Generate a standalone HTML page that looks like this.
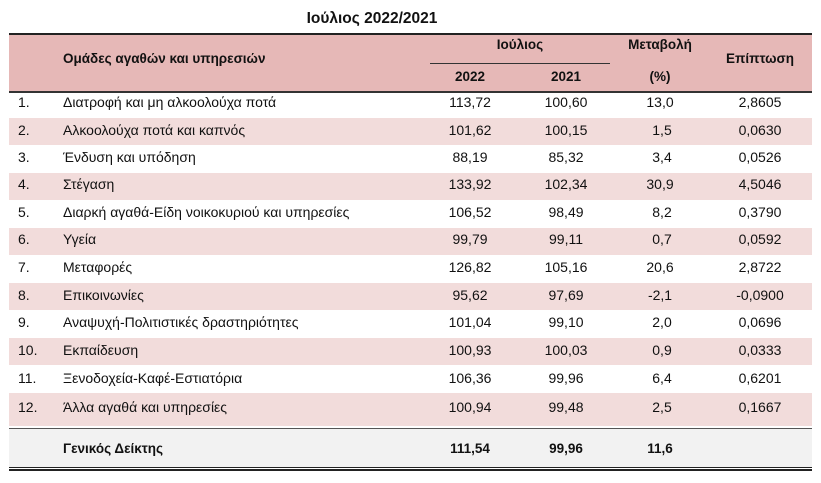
<!DOCTYPE html>
<html><head><meta charset="utf-8"><style>
body{margin:0;width:821px;height:483px;background:#fff;font-family:"Liberation Sans","DejaVu Sans",sans-serif;font-size:14px;color:#111;position:relative;overflow:hidden}
div{position:absolute}
.t{white-space:nowrap;line-height:16px}
.c{transform:translateX(-50%)}
.b{font-weight:bold;font-size:13.5px}
</style></head><body>
<div class="t b c" style="left:372px;top:11px;font-size:15.5px">Ιούλιος 2022/2021</div>
<div style="left:9px;top:33px;width:803px;height:2px;background:#222"></div>
<div style="left:9px;top:35px;width:803px;height:56px;background:#e6b8b7"></div>
<div style="left:430px;top:63px;width:180px;height:1px;background:#333"></div>
<div style="left:9px;top:91px;width:803px;height:2px;background:#333"></div>
<div class="t b" style="left:63px;top:51px">Ομάδες αγαθών και υπηρεσιών</div>
<div class="t b c" style="left:520px;top:37px">Ιούλιος</div>
<div class="t b c" style="left:470px;top:69px">2022</div>
<div class="t b c" style="left:566px;top:69px">2021</div>
<div class="t b c" style="left:660px;top:37px">Μεταβολή</div>
<div class="t b c" style="left:660px;top:69px">(%)</div>
<div class="t b c" style="left:760px;top:51px">Επίπτωση</div>

<div style="left:9px;top:118px;width:803px;height:27px;background:#f2dcdb"></div>
<div style="left:9px;top:173px;width:803px;height:27px;background:#f2dcdb"></div>
<div style="left:9px;top:228px;width:803px;height:27px;background:#f2dcdb"></div>
<div style="left:9px;top:283px;width:803px;height:27px;background:#f2dcdb"></div>
<div style="left:9px;top:338px;width:803px;height:27px;background:#f2dcdb"></div>
<div style="left:9px;top:393px;width:803px;height:33px;background:#f2dcdb"></div>

<div style="left:9px;top:428px;width:803px;height:1px;background:#555"></div>
<div style="left:9px;top:429px;width:803px;height:38px;background:#f2f2f2"></div>
<div style="left:9px;top:467px;width:803px;height:1px;background:#222"></div>
<div style="left:9px;top:469px;width:803px;height:2px;background:#222"></div>

<div style="left:0;top:0">
<div class="t" style="left:18px;top:94px">1.</div><div class="t" style="left:63px;top:94px">Διατροφή και μη αλκοολούχα ποτά</div><div class="t c" style="left:470px;top:94px">113,72</div><div class="t c" style="left:566px;top:94px">100,60</div><div class="t c" style="left:660px;top:94px">13,0</div><div class="t c" style="left:760px;top:94px">2,8605</div>
<div class="t" style="left:18px;top:122px">2.</div><div class="t" style="left:63px;top:122px">Αλκοολούχα ποτά και καπνός</div><div class="t c" style="left:470px;top:122px">101,62</div><div class="t c" style="left:566px;top:122px">100,15</div><div class="t c" style="left:662px;top:122px">1,5</div><div class="t c" style="left:760px;top:122px">0,0630</div>
<div class="t" style="left:18px;top:149px">3.</div><div class="t" style="left:63px;top:149px">Ένδυση και υπόδηση</div><div class="t c" style="left:470px;top:149px">88,19</div><div class="t c" style="left:566px;top:149px">85,32</div><div class="t c" style="left:662px;top:149px">3,4</div><div class="t c" style="left:760px;top:149px">0,0526</div>
<div class="t" style="left:18px;top:176px">4.</div><div class="t" style="left:63px;top:176px">Στέγαση</div><div class="t c" style="left:470px;top:176px">133,92</div><div class="t c" style="left:566px;top:176px">102,34</div><div class="t c" style="left:660px;top:176px">30,9</div><div class="t c" style="left:760px;top:176px">4,5046</div>
<div class="t" style="left:18px;top:204px">5.</div><div class="t" style="left:63px;top:204px">Διαρκή αγαθά-Είδη νοικοκυριού και υπηρεσίες</div><div class="t c" style="left:470px;top:204px">106,52</div><div class="t c" style="left:566px;top:204px">98,49</div><div class="t c" style="left:662px;top:204px">8,2</div><div class="t c" style="left:760px;top:204px">0,3790</div>
<div class="t" style="left:18px;top:231px">6.</div><div class="t" style="left:63px;top:231px">Υγεία</div><div class="t c" style="left:470px;top:231px">99,79</div><div class="t c" style="left:566px;top:231px">99,11</div><div class="t c" style="left:662px;top:231px">0,7</div><div class="t c" style="left:760px;top:231px">0,0592</div>
<div class="t" style="left:18px;top:259px">7.</div><div class="t" style="left:63px;top:259px">Μεταφορές</div><div class="t c" style="left:470px;top:259px">126,82</div><div class="t c" style="left:566px;top:259px">105,16</div><div class="t c" style="left:660px;top:259px">20,6</div><div class="t c" style="left:760px;top:259px">2,8722</div>
<div class="t" style="left:18px;top:287px">8.</div><div class="t" style="left:63px;top:287px">Επικοινωνίες</div><div class="t c" style="left:470px;top:287px">95,62</div><div class="t c" style="left:566px;top:287px">97,69</div><div class="t c" style="left:660px;top:287px">-2,1</div><div class="t c" style="left:760px;top:287px">-0,0900</div>
<div class="t" style="left:18px;top:314px">9.</div><div class="t" style="left:63px;top:314px">Αναψυχή-Πολιτιστικές δραστηριότητες</div><div class="t c" style="left:470px;top:314px">101,04</div><div class="t c" style="left:566px;top:314px">99,10</div><div class="t c" style="left:662px;top:314px">2,0</div><div class="t c" style="left:760px;top:314px">0,0696</div>
<div class="t" style="left:18px;top:342px">10.</div><div class="t" style="left:63px;top:342px">Εκπαίδευση</div><div class="t c" style="left:470px;top:342px">100,93</div><div class="t c" style="left:566px;top:342px">100,03</div><div class="t c" style="left:662px;top:342px">0,9</div><div class="t c" style="left:760px;top:342px">0,0333</div>
<div class="t" style="left:18px;top:370px">11.</div><div class="t" style="left:63px;top:370px">Ξενοδοχεία-Καφέ-Εστιατόρια</div><div class="t c" style="left:470px;top:370px">106,36</div><div class="t c" style="left:566px;top:370px">99,96</div><div class="t c" style="left:662px;top:370px">6,4</div><div class="t c" style="left:760px;top:370px">0,6201</div>
<div class="t" style="left:18px;top:399px">12.</div><div class="t" style="left:63px;top:399px">Άλλα αγαθά και υπηρεσίες</div><div class="t c" style="left:470px;top:399px">100,94</div><div class="t c" style="left:566px;top:399px">99,48</div><div class="t c" style="left:662px;top:399px">2,5</div><div class="t c" style="left:760px;top:399px">0,1667</div>
<div class="t b" style="left:63px;top:441px">Γενικός Δείκτης</div><div class="t b c" style="left:470px;top:441px">111,54</div><div class="t b c" style="left:566px;top:441px">99,96</div><div class="t b c" style="left:660px;top:441px">11,6</div>
</div>
</body></html>
